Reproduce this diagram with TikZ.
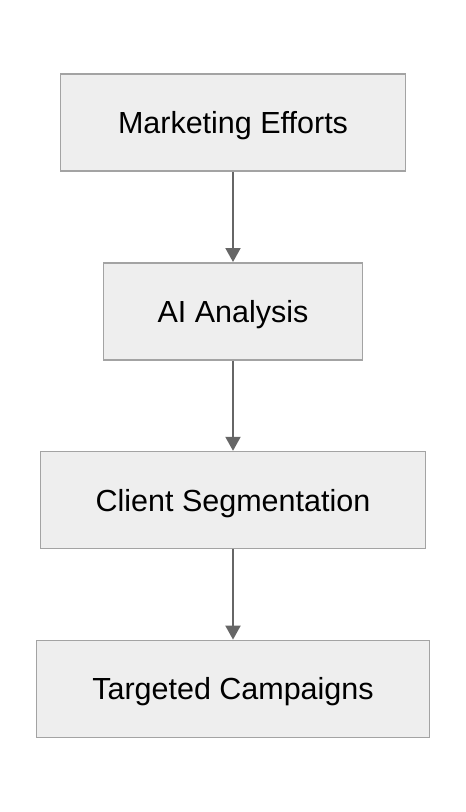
\documentclass[tikz,border=0pt]{standalone}
\usepackage{fontspec}
\setmainfont{Liberation Sans}
\usetikzlibrary{arrows.meta,positioning}
\definecolor{boxfill}{HTML}{EEEEEE}
\definecolor{boxline}{HTML}{A3A3A3}
\definecolor{flowline}{HTML}{666666}
\tikzset{
  >={Triangle[length=14pt,width=15pt]},
  stage/.style={draw=boxline, line width=1.6pt, fill=boxfill, minimum height=97pt,
                inner sep=0pt, text height=22pt, text depth=0pt,
                font=\fontsize{30.5}{36}\selectfont},
  flow/.style ={->, draw=flowline, line width=2pt}
}
\begin{document}
\begin{tikzpicture}[x=1pt, y=-1pt, node distance=90.2pt]
\useasboundingbox (0,0) rectangle (466,812);
% stages, top to bottom
\node[stage, minimum width=345pt] (mkt) at (233,122.5) {Marketing Efforts};
\node[stage, minimum width=259pt, below=of mkt] (ai) {AI Analysis};
\node[stage, minimum width=385pt, below=of ai] (seg) {Client Segmentation};
\node[stage, minimum width=393pt, below=of seg] (camp) {Targeted Campaigns};
% connectors
\draw[flow] (mkt) -- (ai);
\draw[flow] (ai) -- (seg);
\draw[flow] (seg) -- (camp);
\end{tikzpicture}
\end{document}
